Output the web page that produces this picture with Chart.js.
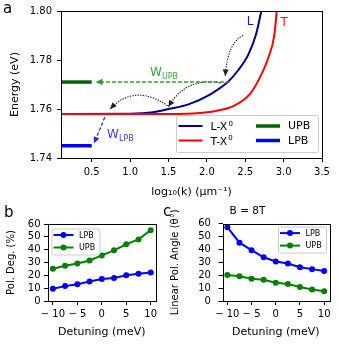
<!DOCTYPE html>
<html>
<head>
<meta charset="utf-8">
<script src="https://cdn.jsdelivr.net/npm/chart.js@4.4.1/dist/chart.umd.min.js"></script>
<style>
  body { margin: 0; background: #fff; width: 339px; height: 347px; position: relative; overflow: hidden; font-family: 'DejaVu Sans', sans-serif; }
  canvas { position: absolute; }
  .tag { position: absolute; font-size: 15px; line-height: 1; color: #000; }
</style>
</head>
<body>
<canvas id="chartA" width="339" height="200" style="left:0;top:0"></canvas>
<canvas id="chartB" width="170" height="147" style="left:0;top:200px"></canvas>
<canvas id="chartC" width="173" height="147" style="left:166px;top:200px"></canvas>
<div class="tag" style="left:3px;top:1px">a</div>
<div class="tag" style="left:4px;top:205px">b</div>
<div class="tag" style="left:163px;top:204px">c</div>
<script>
// panel a: exciton dispersions
const lX = [0.1, 1.0, 1.3, 1.52, 1.76, 2.04, 2.28, 2.40, 2.54, 2.64, 2.71];
const lE = [1.758, 1.7581, 1.7587, 1.7601, 1.7619, 1.7659, 1.7712, 1.7755, 1.7822, 1.7904, 1.800];
const tX = [0.1, 1.5, 1.91, 2.13, 2.35, 2.56, 2.69, 2.80, 2.88, 2.91];
const tE = [1.758, 1.758, 1.7584, 1.7593, 1.7613, 1.7661, 1.7728, 1.7809, 1.7904, 1.800];
const pbX = [0.1, 0.5];
const upbE = 1.771;
const lpbE = 1.745;
const energyTicks = [1.74, 1.76, 1.78, 1.80];
const logkTicks = [0.5, 1.0, 1.5, 2.0, 2.5, 3.0, 3.5];

// panel a annotations, in data units [x, E]
const dottedArrows = [
    [[2.47, 1.790], [2.27, 1.787], [2.24, 1.7735]],
    [[2.17, 1.7707], [1.72, 1.773], [1.50, 1.7609]],
    [[1.49, 1.7613], [1.06, 1.7706], [0.74, 1.7600]]
];
const upbArrow = [[2.3, 1.771], [0.55, 1.771]];
const lpbArrow = [[0.67, 1.7566], [0.53, 1.7460]];

// panels b and c
const detuning = [-10, -7.5, -5, -2.5, 0, 2.5, 5, 7.5, 10];
const polDegLPB = [9.5, 11.6, 13.0, 15.2, 17.1, 18.0, 20.0, 21.3, 22.2];
const polDegUPB = [25.1, 27.5, 29.2, 31.6, 35.5, 39.5, 44.2, 48.0, 55.2];
const polAngLPB = [57.2, 45.2, 39.4, 33.9, 30.6, 29.0, 26.2, 24.7, 23.2];
const polAngUPB = [20.2, 19.1, 17.2, 16.5, 14.1, 13.1, 10.8, 9.0, 7.6];
const detTicks = [-10, -5, 0, 5, 10];
const pctTicks = [0, 10, 20, 30, 40, 50, 60];

const FONT = "'DejaVu Sans', sans-serif";
Chart.defaults.font.family = FONT;
Chart.defaults.font.size = 10;
Chart.defaults.color = '#000';

function axis(o) {
    return {
        type: 'linear',
        min: o.min,
        max: o.max,
        afterBuildTicks: s => { s.ticks = o.ticks.map(v => ({ value: v })); },
        afterFit: s => { if (s.isHorizontal()) s.height = o.size; else s.width = o.size; },
        grid: { drawOnChartArea: false, drawTicks: true, tickLength: 4, color: '#000' },
        border: { display: false },
        ticks: { padding: o.pad, font: { size: 10 }, color: '#000', callback: o.fmt,
            maxRotation: 0, minRotation: 0, autoSkip: false },
        title: { display: true, text: o.title, color: '#000', font: { size: o.titleSize || 11 }, padding: o.titlePad }
    };
}

const minus = v => v < 0 ? '\u2212 ' + Math.abs(v) : String(v);

// full box round the plot
const frame = {
    id: 'frame',
    afterDatasetsDraw(chart) {
        const { ctx, chartArea: a } = chart;
        ctx.save();
        ctx.strokeStyle = '#000';
        ctx.lineWidth = 1;
        ctx.strokeRect(Math.round(a.left) + 0.5, Math.round(a.top) + 0.5, Math.round(a.right - a.left), Math.round(a.bottom - a.top));
        ctx.restore();
    }
};

function arrowHead(ctx, x, y, ang, len, w) {
    const c = Math.cos(ang), s = Math.sin(ang);
    ctx.beginPath();
    ctx.moveTo(x, y);
    ctx.lineTo(x - len * c + w * s, y - len * s - w * c);
    ctx.lineTo(x - len * c - w * s, y - len * s + w * c);
    ctx.closePath();
    ctx.fill();
}

function legendBox(ctx, x, y, w, h) {
    ctx.save();
    ctx.fillStyle = 'rgba(255,255,255,0.8)';
    ctx.strokeStyle = '#cccccc';
    ctx.lineWidth = 1;
    ctx.beginPath();
    ctx.roundRect(x + 0.5, y + 0.5, w, h, 2);
    ctx.fill();
    ctx.stroke();
    ctx.restore();
}

function subText(ctx, main, sub, x, y, size, up) {
    // main text plus a sub- or superscript
    ctx.font = size + 'px ' + FONT;
    ctx.textBaseline = 'alphabetic';
    ctx.textAlign = 'left';
    ctx.fillText(main, x, y);
    const w = ctx.measureText(main).width;
    ctx.font = Math.round(size * 0.68) + 'px ' + FONT;
    ctx.fillText(sub, x + w + (up ? 1 : 0), up ? y - size * 0.42 : y + size * 0.22);
}

// annotations of panel a
const annotA = {
    id: 'annotA',
    afterDraw(chart) {
        const { ctx, chartArea: a } = chart;
        const sx = chart.scales.x, sy = chart.scales.y;
        const px = p => [sx.getPixelForValue(p[0]), sy.getPixelForValue(p[1])];
        ctx.save();

        // dotted curved arrows
        ctx.strokeStyle = '#222';
        ctx.fillStyle = '#222';
        ctx.lineWidth = 1.2;
        dottedArrows.forEach(arr => {
            const [p0, p1, p2] = arr.map(px);
            ctx.setLineDash([1.3, 1.3]);
            ctx.beginPath();
            ctx.moveTo(p0[0], p0[1]);
            ctx.quadraticCurveTo(p1[0], p1[1], p2[0], p2[1]);
            ctx.stroke();
            ctx.setLineDash([]);
            arrowHead(ctx, p2[0], p2[1], Math.atan2(p2[1] - p1[1], p2[0] - p1[0]), 6.5, 3);
        });

        // green W_UPB arrow
        const u0 = px(upbArrow[0]), u1 = px(upbArrow[1]);
        ctx.strokeStyle = '#2f9a2f';
        ctx.fillStyle = '#2f9a2f';
        ctx.lineWidth = 1.5;
        ctx.setLineDash([4, 2]);
        ctx.beginPath();
        ctx.moveTo(u0[0], u0[1]);
        ctx.lineTo(u1[0] + 5, u1[1]);
        ctx.stroke();
        ctx.setLineDash([]);
        arrowHead(ctx, u1[0], u1[1], Math.PI, 7, 3.3);

        // blue W_LPB arrow
        const b0 = px(lpbArrow[0]), b1 = px(lpbArrow[1]);
        const ang = Math.atan2(b1[1] - b0[1], b1[0] - b0[0]);
        ctx.strokeStyle = '#2525ff';
        ctx.fillStyle = '#2525ff';
        ctx.lineWidth = 1.2;
        ctx.setLineDash([3.5, 2]);
        ctx.beginPath();
        ctx.moveTo(b0[0], b0[1]);
        ctx.lineTo(b1[0] - 4 * Math.cos(ang), b1[1] - 4 * Math.sin(ang));
        ctx.stroke();
        ctx.setLineDash([]);
        arrowHead(ctx, b1[0], b1[1], ang, 6.5, 3);

        // labels
        ctx.fillStyle = '#3aa63a';
        let p = px([1.26, 1.7735]);
        subText(ctx, 'W', 'UPB', p[0], p[1], 12, false);
        ctx.fillStyle = '#3a3aff';
        p = px([0.70, 1.7482]);
        subText(ctx, 'W', 'LPB', p[0], p[1], 12, false);

        ctx.font = '12px ' + FONT;
        ctx.fillStyle = '#1c1c8c';
        p = px([2.52, 1.7942]);
        ctx.fillText('L', p[0], p[1]);
        ctx.fillStyle = '#ff1a1a';
        p = px([2.96, 1.7940]);
        ctx.fillText('T', p[0], p[1]);

        // legend, two columns in the lower right corner
        const w = 142, h = 37;
        const lx = a.right - 4 - w, ly = a.bottom - 6 - h;
        legendBox(ctx, lx, ly, w, h);
        const items = [
            ['L-X', '#00008b', 2, 0, 0],
            ['T-X', '#ff0000', 2, 0, 1],
            ['UPB', '#006400', 3.5, 1, 0],
            ['LPB', '#0000ff', 3.5, 1, 1]
        ];
        items.forEach(([txt, col, lw, c, r]) => {
            const x0 = lx + (c ? 80 : 2.5), yy = ly + 11 + r * 14.5;
            ctx.strokeStyle = col;
            ctx.lineWidth = lw;
            ctx.beginPath();
            ctx.moveTo(x0, yy);
            ctx.lineTo(x0 + 24, yy);
            ctx.stroke();
            ctx.fillStyle = '#000';
            if (c) {
                ctx.font = '11px ' + FONT;
                ctx.textBaseline = 'middle';
                ctx.fillText(txt, x0 + 32, yy + 0.5);
            } else {
                subText(ctx, txt, '0', x0 + 32, yy + 4.2, 11, true);
            }
        });
        ctx.restore();
    }
};

// small legend for panels b and c
function seriesLegend(corner) {
    return {
        id: 'seriesLegend',
        afterDraw(chart) {
            const { ctx, chartArea: a } = chart;
            const w = 48, h = 26;
            const x = corner === 'left' ? a.left + 3.5 : a.right - 3 - w;
            const y = a.top + (corner === 'left' ? 4.5 : 3);
            legendBox(ctx, x, y, w, h);
            ctx.save();
            chart.data.datasets.forEach((ds, i) => {
                const yy = y + 6.5 + i * 12.5;
                ctx.strokeStyle = ds.borderColor;
                ctx.fillStyle = ds.borderColor;
                ctx.lineWidth = 2;
                ctx.beginPath();
                ctx.moveTo(x + 2, yy);
                ctx.lineTo(x + 22, yy);
                ctx.stroke();
                ctx.beginPath();
                ctx.arc(x + 12, yy, 3, 0, Math.PI * 2);
                ctx.fill();
                ctx.fillStyle = '#000';
                ctx.font = '8px ' + FONT;
                ctx.textBaseline = 'middle';
                ctx.textAlign = 'left';
                ctx.fillText(ds.label, x + 27.5, yy + 0.5);
            });
            ctx.restore();
        }
    };
}

const xy = (xs, ys) => xs.map((x, i) => ({ x, y: ys[i] }));

function curve(label, xs, ys, color, width) {
    return {
        label,
        data: xy(xs, ys),
        borderColor: color,
        backgroundColor: color,
        borderWidth: width,
        pointRadius: 0,
        cubicInterpolationMode: 'monotone',
        borderCapStyle: 'butt'
    };
}

function series(label, ys, color) {
    return {
        label,
        data: xy(detuning, ys),
        borderColor: color,
        backgroundColor: color,
        borderWidth: 2,
        pointRadius: 3,
        pointHoverRadius: 3,
        pointBorderWidth: 0
    };
}

const base = {
    responsive: false,
    animation: false,
    events: [],
    plugins: { legend: { display: false }, tooltip: { enabled: false } }
};

// PANEL A
new Chart(document.getElementById('chartA'), {
    type: 'line',
    data: {
        datasets: [
            curve('T-X0', tX, tE, '#ff0000', 2),
            curve('L-X0', lX, lE, '#00008b', 2),
            curve('UPB', pbX, pbX.map(() => upbE), '#006400', 3.5),
            curve('LPB', pbX, pbX.map(() => lpbE), '#0000ff', 3.5)
        ]
    },
    options: {
        ...base,
        layout: { padding: { left: 0, top: 9, right: 17, bottom: 0 } },
        scales: {
            x: axis({ min: 0.1, max: 3.5, ticks: logkTicks, size: 42, pad: 4.5, fmt: v => v.toFixed(1),
                title: 'log\u2081\u2080(k) (\u03bcm\u207b\u00b9)', titlePad: { top: 0, bottom: 1.5 } }),
            y: axis({ min: 1.74, max: 1.80, ticks: energyTicks, size: 61, pad: 5, fmt: v => v.toFixed(2),
                title: 'Energy (eV)', titlePad: { top: 8.4, bottom: 0 } })
        }
    },
    plugins: [frame, annotA]
});

// PANEL B
new Chart(document.getElementById('chartB'), {
    type: 'line',
    data: {
        datasets: [
            series('LPB', polDegLPB, '#0000ff'),
            series('UPB', polDegUPB, '#008000')
        ]
    },
    options: {
        ...base,
        layout: { padding: { left: 0, top: 24, right: 14.4, bottom: 0 } },
        scales: {
            x: axis({ min: -11, max: 11, ticks: detTicks, size: 46, pad: 3, fmt: minus,
                title: 'Detuning (meV)', titlePad: { top: 0, bottom: 8.7 } }),
            y: axis({ min: 0, max: 60, ticks: pctTicks, size: 48, pad: 3.5, fmt: v => String(v),
                title: 'Pol. Deg. (%)', titleSize: 10, titlePad: { top: 5.7, bottom: 0 } })
        }
    },
    plugins: [frame, seriesLegend('left')]
});

// PANEL C
new Chart(document.getElementById('chartC'), {
    type: 'line',
    data: {
        datasets: [
            series('LPB', polAngLPB, '#0000ff'),
            series('UPB', polAngUPB, '#008000')
        ]
    },
    options: {
        ...base,
        layout: { padding: { left: 0, top: 0, right: 10, bottom: 0 } },
        plugins: {
            ...base.plugins,
            title: { display: true, text: 'B = 8T', color: '#000', font: { size: 10.5, weight: 'normal' }, padding: { top: 5, bottom: 6 } }
        },
        scales: {
            x: axis({ min: -11, max: 11, ticks: detTicks, size: 46, pad: 3, fmt: minus,
                title: 'Detuning (meV)', titlePad: { top: 0, bottom: 8.7 } }),
            y: axis({ min: 0, max: 60, ticks: pctTicks, size: 56.5, pad: 7.6, fmt: v => String(v),
                title: 'Linear Pol. Angle (\u03b8\u00b0)', titleSize: 10, titlePad: { top: 3, bottom: 0 } })
        }
    },
    plugins: [frame, seriesLegend('right')]
});
</script>
</body>
</html>
